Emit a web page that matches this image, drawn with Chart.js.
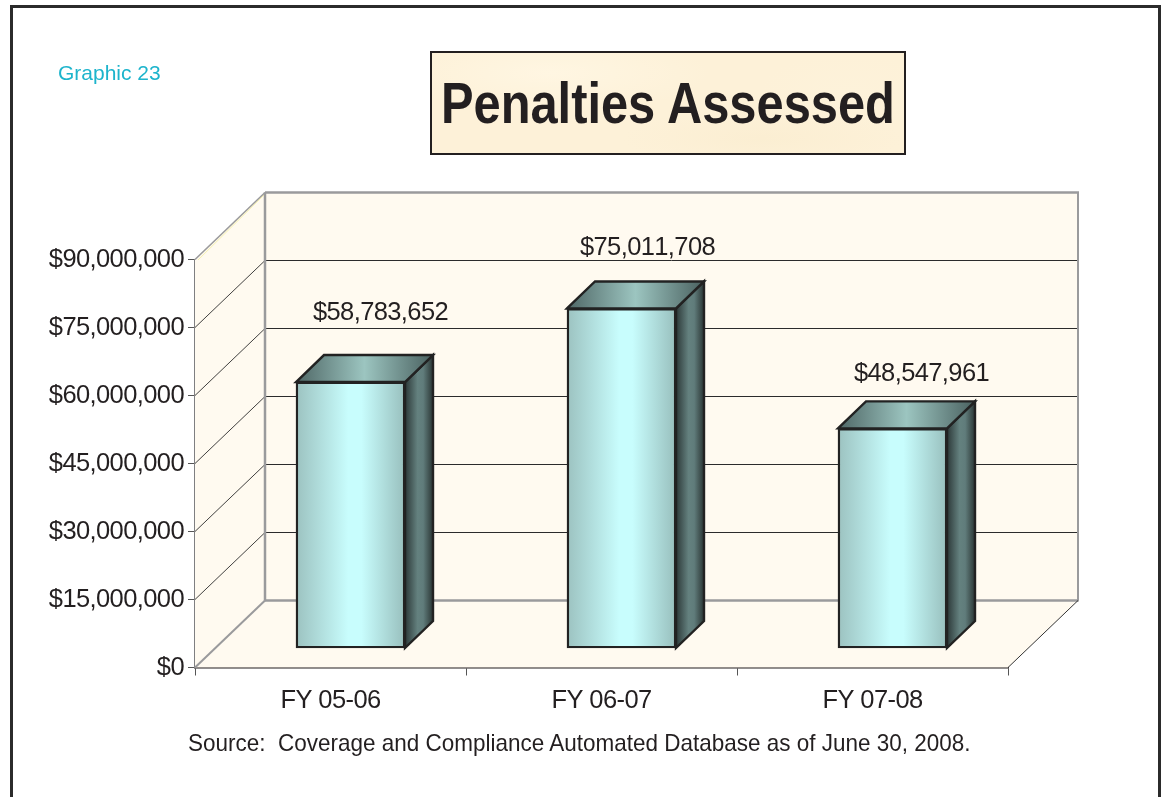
<!DOCTYPE html>
<html><head><meta charset="utf-8">
<script src="https://cdn.jsdelivr.net/npm/chart.js@4"></script>
<style>
html,body{margin:0;padding:0;background:#fff;overflow:hidden;width:1161px;height:797px}
#wrap{position:relative;width:1161px;height:797px}
#frame{position:absolute;left:9.5px;top:5px;width:1145px;height:840px;border:3px solid #2b2b2b;box-sizing:content-box}
canvas{position:absolute;left:0;top:0}
.t{position:absolute;font-family:"Liberation Sans",Arial,sans-serif;white-space:pre;color:#231f20}
#graphic{left:58px;top:61px;font-size:21px;line-height:24px;color:#1db4cc}
#box{position:absolute;left:430px;top:51px;width:472px;height:100px;border:2.5px solid #231f20;
background:radial-gradient(ellipse 160px 40px at 25% 20%,#fff6e2,transparent),radial-gradient(ellipse 140px 30px at 70% 85%,#fbeed2,transparent),radial-gradient(ellipse 90px 40px at 88% 40%,#fdf2da,transparent),#fdf1d8}
#title{left:441px;top:70px;font-size:57px;line-height:66px;font-weight:bold;transform-origin:0 0;transform:scaleX(.856)}
#source{left:188px;top:729px;font-size:24px;line-height:28px;transform-origin:0 0;transform:scaleX(.937)}
</style></head>
<body><div id="wrap">
<div id="frame"></div>
<div id="box"></div>
<canvas id="c" width="1161" height="797"></canvas>
<div class="t" id="graphic">Graphic 23</div>
<div class="t" id="title">Penalties Assessed</div>
<div class="t" id="source">Source:  Coverage and Compliance Automated Database as of June 30, 2008.</div>
</div>
<script>
const categories = ["FY 05-06", "FY 06-07", "FY 07-08"];
const penalties = [58783652, 75011708, 48547961];
const dataLabels = ["$58,783,652", "$75,011,708", "$48,547,961"];
const axisMax = 90000000;
const axisStep = 15000000;

// layout of the pseudo-3D box
const DEPTH_X = 70, DEPTH_Y = 67;      // wall depth
const BAR_SHIFT_X = 20, BAR_SHIFT_Y = 19; // bars stand mid-floor
const BAR_DX = 28, BAR_DY = 27;        // bar depth
const BAR_WIDTH = 109;
const labelOffsetX = [30, 26, 29];
const labelOffsetY = [69, 60, 54];
const FONT = '"Liberation Sans", Arial, sans-serif';
const TEXT_SIZE = 25.5, TEXT_SPACING = '-0.6px';
const INK = '#231f20', WALL = '#fffaf0', EDGE = '#9a9a9c';

function poly(ctx, pts, fill, stroke, lw) {
  ctx.beginPath();
  pts.forEach((p, i) => i ? ctx.lineTo(p[0], p[1]) : ctx.moveTo(p[0], p[1]));
  ctx.closePath();
  if (fill) { ctx.fillStyle = fill; ctx.fill(); }
  if (stroke) { ctx.strokeStyle = stroke; ctx.lineWidth = lw; ctx.lineJoin = 'miter'; ctx.stroke(); }
}
function line(ctx, x1, y1, x2, y2, c, w) {
  ctx.beginPath(); ctx.moveTo(x1, y1); ctx.lineTo(x2, y2);
  ctx.strokeStyle = c; ctx.lineWidth = w; ctx.stroke();
}
function grad(ctx, x0, x1, stops) {
  const g = ctx.createLinearGradient(x0, 0, x1, 0);
  stops.forEach(s => g.addColorStop(s[0], s[1]));
  return g;
}

const box3d = {
  id: 'box3d',
  beforeDraw(chart) {
    chart.ctx.letterSpacing = TEXT_SPACING;
    chart.ctx.fontKerning = 'none';
  },
  beforeDatasetsDraw(chart) {
    const { ctx, chartArea: a, scales: { y } } = chart;
    const L = a.left, R = a.right, T = a.top, B = a.bottom;
    const dx = DEPTH_X, dy = DEPTH_Y;
    ctx.save();
    poly(ctx, [[L + dx, T - dy], [R + dx, T - dy], [R + dx, B - dy], [L + dx, B - dy]], WALL);
    poly(ctx, [[L, T], [L + dx, T - dy], [L + dx, B - dy], [L, B]], WALL);
    poly(ctx, [[L, B], [L + dx, B - dy], [R + dx, B - dy], [R, B]], WALL);
    y.ticks.forEach(t => {
      if (t.value === 0 || t.value === axisMax) return;
      const p = y.getPixelForValue(t.value);
      const gy = Math.floor(p - dy) + 0.5;
      line(ctx, L, p, L + dx, p - dy, '#2b2b2b', 0.9);
      line(ctx, L + dx, gy, R + dx, gy, '#2b2b2b', 1);
    });
    // back-wall and side edges
    line(ctx, L, T, L + dx, T - dy, EDGE, 1.6);
    line(ctx, L + 3, T + 0.5, L + dx - 1, T - dy + 2.5, '#f4efa0', 0.8);
    line(ctx, L + dx, T - dy, R + dx + 1, T - dy, EDGE, 2.5);
    line(ctx, L + dx, T - dy, L + dx, B - dy, EDGE, 2.5);
    line(ctx, R + dx, T - dy, R + dx, B - dy + 1, EDGE, 2);
    line(ctx, L + dx, B - dy, R + dx, B - dy, EDGE, 2.5);
    line(ctx, L, B, L + dx, B - dy, EDGE, 2);
    line(ctx, R, B, R + dx, B - dy, '#333', 1);
    ctx.restore();

    // bars are drawn by the library, moved onto the middle of the floor
    ctx.save();
    ctx.translate(BAR_SHIFT_X, -BAR_SHIFT_Y);
    chart.getDatasetMeta(0).data.forEach(el => {
      const l = el.x - el.width / 2, r = el.x + el.width / 2, t = el.y, b = el.base;
      const sX = BAR_DX, sY = BAR_DY;
      poly(ctx, [[r, t], [r + sX, t - sY], [r + sX, b - sY], [r, b]],
        grad(ctx, r, r + sX, [[0, '#2c3838'], [.45, '#64817f'], [.65, '#607c7b'], [1, '#2b3635']]), '#222', 2.4);
      poly(ctx, [[l, t], [l + sX, t - sY], [r + sX, t - sY], [r, t]],
        grad(ctx, l, r + sX, [[0, '#4f6766'], [.5, '#9cc5c0'], [1, '#4a6160']]), '#222', 2.4);
    });
  },
  afterDatasetsDraw(chart) {
    const { ctx, scales: { x, y } } = chart;
    ctx.restore();
    ctx.save();
    ctx.font = TEXT_SIZE + 'px ' + FONT;
    ctx.letterSpacing = TEXT_SPACING;
    ctx.fontKerning = 'none';
    ctx.fillStyle = INK;
    ctx.textAlign = 'center';
    ctx.textBaseline = 'middle';
    penalties.forEach((v, i) => {
      ctx.fillText(dataLabels[i],
        x.getPixelForValue(i) + BAR_SHIFT_X + labelOffsetX[i],
        y.getPixelForValue(v) - BAR_SHIFT_Y - labelOffsetY[i]);
    });
    ctx.restore();
  }
};

new Chart(document.getElementById('c'), {
  type: 'bar',
  data: {
    labels: categories,
    datasets: [{
      data: penalties,
      barThickness: BAR_WIDTH,
      clip: false,
      borderColor: '#222',
      borderWidth: 2.4,
      borderSkipped: false,
      backgroundColor(c) {
        const cx = c.chart.scales.x.getPixelForValue(c.dataIndex);
        if (!isFinite(cx)) return '#a8d0ce';
        return grad(c.chart.ctx, cx - BAR_WIDTH / 2, cx + BAR_WIDTH / 2,
          [[0, '#9cc2c0'], [.48, '#c8fdfd'], [.6, '#c8fdfd'], [1, '#98bfbd']]);
      }
    }]
  },
  options: {
    responsive: false,
    animation: false,
    layout: { padding: { left: 0, right: 153, top: 259.5, bottom: 0 } },
    plugins: { legend: { display: false }, tooltip: { enabled: false }, title: { display: false } },
    scales: {
      x: {
        grid: { drawOnChartArea: false, drawTicks: true, tickLength: 8, tickColor: '#555', offset: true },
        border: { color: INK, width: 1.5 },
        ticks: { color: INK, padding: 10, font: { size: TEXT_SIZE, family: FONT }, maxRotation: 0 },
        afterFit(s) { s.height = 129.5; }
      },
      y: {
        min: 0, max: axisMax,
        grid: { drawOnChartArea: false, tickLength: 7, tickColor: '#555' },
        border: { color: '#7f7f81', width: 2 },
        ticks: {
          stepSize: axisStep, color: INK, padding: 4,
          font: { size: TEXT_SIZE, family: FONT },
          callback: v => '$' + Number(v).toLocaleString('en-US')
        },
        afterFit(s) { s.width = 195; }
      }
    }
  },
  plugins: [box3d]
});
</script>
</body></html>
